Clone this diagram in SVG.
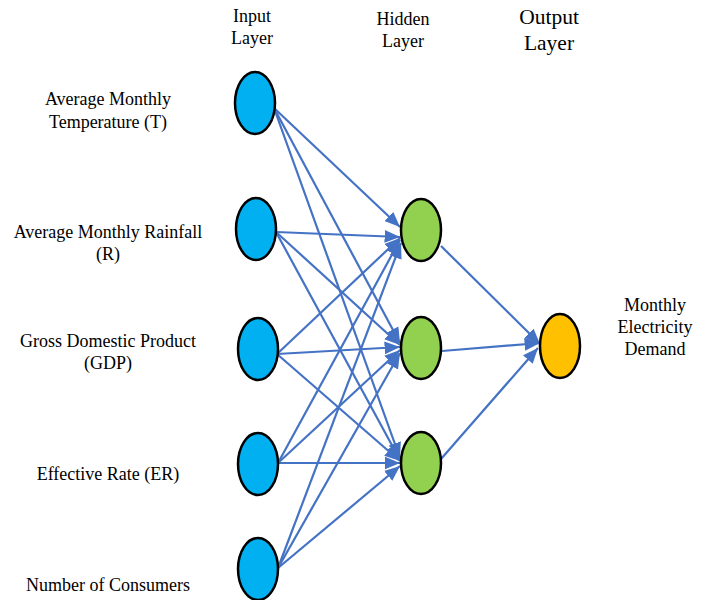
<svg xmlns="http://www.w3.org/2000/svg" width="707" height="600" viewBox="0 0 707 600">
<style>
text{font-family:"Liberation Serif","Times New Roman",serif;font-size:18px;fill:#000;text-anchor:middle}
.big{font-size:21.5px}
.in{fill:#00B0F0;stroke:#000;stroke-width:2.5}
.hid{fill:#92D050;stroke:#000;stroke-width:2.5}
.out{fill:#FFC000;stroke:#000;stroke-width:2.5}
.e{stroke:#4472C4;stroke-width:2.2;fill:none;marker-end:url(#ah)}
</style>
<defs>
<marker id="ah" viewBox="0 0 12 10" refX="12" refY="5" markerWidth="7" markerHeight="6" orient="auto" markerUnits="strokeWidth">
<path d="M0,0 L12,5 L0,10 z" fill="#4472C4"/>
</marker>
</defs>
<g id="headers">
<text x="252" y="22">Input</text>
<text x="252" y="44">Layer</text>
<text x="403" y="25">Hidden</text>
<text x="403" y="47">Layer</text>
<text class="big" x="549" y="24">Output</text>
<text class="big" x="549" y="50">Layer</text>
</g>
<g id="connectors">
<line class="e" x1="274" y1="108" x2="400" y2="227"/>
<line class="e" x1="274" y1="108" x2="400" y2="343"/>
<line class="e" x1="274" y1="108" x2="400" y2="458"/>
<line class="e" x1="276" y1="232" x2="400" y2="237"/>
<line class="e" x1="276" y1="232" x2="400" y2="345"/>
<line class="e" x1="276" y1="232" x2="400" y2="460"/>
<line class="e" x1="277" y1="354" x2="400" y2="238"/>
<line class="e" x1="277" y1="354" x2="400" y2="347"/>
<line class="e" x1="277" y1="354" x2="400" y2="461"/>
<line class="e" x1="278" y1="463" x2="400" y2="240"/>
<line class="e" x1="278" y1="463" x2="400" y2="350"/>
<line class="e" x1="278" y1="463" x2="400" y2="463"/>
<line class="e" x1="278" y1="568" x2="401" y2="243"/>
<line class="e" x1="278" y1="568" x2="400" y2="353"/>
<line class="e" x1="278" y1="568" x2="400" y2="466"/>
<line class="e" x1="441" y1="246" x2="540" y2="344"/>
<line class="e" x1="442" y1="351" x2="540" y2="343"/>
<line class="e" x1="441" y1="459" x2="538" y2="348"/>
</g>
<g id="in-T"><ellipse class="in" cx="255" cy="103" rx="20" ry="31"/>
<text x="108" y="105">Average Monthly</text><text x="108" y="128">Temperature (T)</text></g>
<g id="in-R"><ellipse class="in" cx="256" cy="229" rx="20" ry="31"/>
<text x="108" y="238">Average Monthly Rainfall</text><text x="108" y="260">(R)</text></g>
<g id="in-GDP"><ellipse class="in" cx="258" cy="349" rx="20" ry="31"/>
<text x="108" y="347">Gross Domestic Product</text><text x="108" y="369">(GDP)</text></g>
<g id="in-ER"><ellipse class="in" cx="258" cy="464" rx="20" ry="31"/>
<text x="108" y="480">Effective Rate (ER)</text></g>
<g id="in-CC"><ellipse class="in" cx="258" cy="569" rx="20" ry="31"/>
<text x="108" y="591">Number of Consumers</text><text x="108" y="613">(CC)</text></g>
<g id="h1"><ellipse class="hid" cx="421" cy="230" rx="20" ry="31"/></g>
<g id="h2"><ellipse class="hid" cx="421" cy="348" rx="20" ry="31"/></g>
<g id="h3"><ellipse class="hid" cx="421" cy="463" rx="20" ry="31"/></g>
<g id="out"><ellipse class="out" cx="560" cy="346" rx="20" ry="32"/>
<text x="655" y="311">Monthly</text><text x="655" y="333">Electricity</text><text x="655" y="355">Demand</text></g>
</svg>
